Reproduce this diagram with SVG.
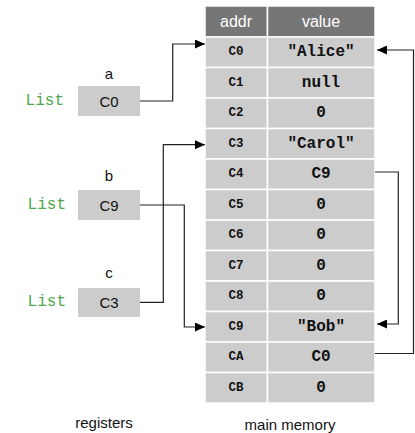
<svg xmlns="http://www.w3.org/2000/svg" width="415" height="433" viewBox="0 0 415 433">
  <style>
    .cell { fill: #cccccc; stroke: #ffffff; stroke-width: 1.5; }
    .head { fill: #767676; stroke: #ffffff; stroke-width: 1.5; }
    .htxt { font-family: "Liberation Sans", sans-serif; font-size: 16px; fill: #ffffff; text-anchor: middle; dominant-baseline: central; }
    .addr { font-family: "Liberation Mono", monospace; font-weight: bold; font-size: 12.5px; fill: #111; text-anchor: middle; dominant-baseline: central; }
    .val { font-family: "Liberation Mono", monospace; font-weight: bold; font-size: 16px; fill: #111; text-anchor: middle; dominant-baseline: central; }
    .reg { fill: #cccccc; }
    .rtxt { font-family: "Liberation Sans", sans-serif; font-size: 15px; fill: #111; text-anchor: middle; dominant-baseline: central; }
    .type { font-family: "Liberation Mono", monospace; font-size: 16px; fill: #4fa64f; text-anchor: end; dominant-baseline: central; }
    .lbl { font-family: "Liberation Sans", sans-serif; font-size: 15px; fill: #111; text-anchor: middle; dominant-baseline: central; }
    .wire { fill: none; stroke: #222; stroke-width: 1.2; }
  </style>
  <defs>
    <marker id="arrow" markerUnits="userSpaceOnUse" markerWidth="11" markerHeight="9" refX="10" refY="4.5" orient="auto">
      <path d="M0,0 L10,4.5 L0,9 z" fill="#000"/>
    </marker>
  </defs>

  <rect width="415" height="433" fill="#ffffff"/>

  <!-- memory table header -->
  <g id="header">
    <rect class="head" x="205" y="6" width="62.5" height="31"/>
    <rect class="head" x="267.5" y="6" width="107.5" height="31"/>
    <text class="htxt" x="236" y="21.5">addr</text>
    <text class="htxt" x="321" y="21.5">value</text>
  </g>

  <!-- memory cells -->
  <g id="mem-C0">
    <rect class="cell" x="205" y="37" width="62.5" height="30.5"/>
    <rect class="cell" x="267.5" y="37" width="107.5" height="30.5"/>
    <text class="addr" x="236" y="52">C0</text>
    <text class="val" x="321" y="52">"Alice"</text>
  </g>
  <g id="mem-C1">
    <rect class="cell" x="205" y="67.5" width="62.5" height="30.5"/>
    <rect class="cell" x="267.5" y="67.5" width="107.5" height="30.5"/>
    <text class="addr" x="236" y="82.5">C1</text>
    <text class="val" x="321" y="82.5">null</text>
  </g>
  <g id="mem-C2">
    <rect class="cell" x="205" y="98" width="62.5" height="30.5"/>
    <rect class="cell" x="267.5" y="98" width="107.5" height="30.5"/>
    <text class="addr" x="236" y="113">C2</text>
    <text class="val" x="321" y="113">0</text>
  </g>
  <g id="mem-C3">
    <rect class="cell" x="205" y="128.5" width="62.5" height="30.5"/>
    <rect class="cell" x="267.5" y="128.5" width="107.5" height="30.5"/>
    <text class="addr" x="236" y="143.5">C3</text>
    <text class="val" x="321" y="143.5">"Carol"</text>
  </g>
  <g id="mem-C4">
    <rect class="cell" x="205" y="159" width="62.5" height="30.5"/>
    <rect class="cell" x="267.5" y="159" width="107.5" height="30.5"/>
    <text class="addr" x="236" y="174">C4</text>
    <text class="val" x="321" y="174">C9</text>
  </g>
  <g id="mem-C5">
    <rect class="cell" x="205" y="189.5" width="62.5" height="30.5"/>
    <rect class="cell" x="267.5" y="189.5" width="107.5" height="30.5"/>
    <text class="addr" x="236" y="204.5">C5</text>
    <text class="val" x="321" y="204.5">0</text>
  </g>
  <g id="mem-C6">
    <rect class="cell" x="205" y="220" width="62.5" height="30.5"/>
    <rect class="cell" x="267.5" y="220" width="107.5" height="30.5"/>
    <text class="addr" x="236" y="235">C6</text>
    <text class="val" x="321" y="235">0</text>
  </g>
  <g id="mem-C7">
    <rect class="cell" x="205" y="250.5" width="62.5" height="30.5"/>
    <rect class="cell" x="267.5" y="250.5" width="107.5" height="30.5"/>
    <text class="addr" x="236" y="265.5">C7</text>
    <text class="val" x="321" y="265.5">0</text>
  </g>
  <g id="mem-C8">
    <rect class="cell" x="205" y="281" width="62.5" height="30.5"/>
    <rect class="cell" x="267.5" y="281" width="107.5" height="30.5"/>
    <text class="addr" x="236" y="296">C8</text>
    <text class="val" x="321" y="296">0</text>
  </g>
  <g id="mem-C9">
    <rect class="cell" x="205" y="311.5" width="62.5" height="30.5"/>
    <rect class="cell" x="267.5" y="311.5" width="107.5" height="30.5"/>
    <text class="addr" x="236" y="326.5">C9</text>
    <text class="val" x="321" y="326.5">"Bob"</text>
  </g>
  <g id="mem-CA">
    <rect class="cell" x="205" y="342" width="62.5" height="30.5"/>
    <rect class="cell" x="267.5" y="342" width="107.5" height="30.5"/>
    <text class="addr" x="236" y="357">CA</text>
    <text class="val" x="321" y="357">C0</text>
  </g>
  <g id="mem-CB">
    <rect class="cell" x="205" y="372.5" width="62.5" height="30.5"/>
    <rect class="cell" x="267.5" y="372.5" width="107.5" height="30.5"/>
    <text class="addr" x="236" y="387.5">CB</text>
    <text class="val" x="321" y="387.5">0</text>
  </g>

  <!-- registers -->
  <g id="reg-a">
    <text class="lbl" x="109" y="73">a</text>
    <text class="type" x="64" y="101">List</text>
    <rect class="reg" x="78" y="86" width="62" height="30"/>
    <text class="rtxt" x="109" y="101">C0</text>
  </g>
  <g id="reg-b">
    <text class="lbl" x="109" y="175">b</text>
    <text class="type" x="66" y="205">List</text>
    <rect class="reg" x="78" y="190" width="62" height="30"/>
    <text class="rtxt" x="109" y="205">C9</text>
  </g>
  <g id="reg-c">
    <text class="lbl" x="109" y="272">c</text>
    <text class="type" x="66" y="302">List</text>
    <rect class="reg" x="78" y="288" width="62" height="29"/>
    <text class="rtxt" x="109" y="302">C3</text>
  </g>

  <!-- captions -->
  <text class="lbl" x="104" y="422">registers</text>
  <text class="lbl" x="290" y="424">main memory</text>

  <!-- pointers -->
  <g id="connectors">
    <path class="wire" d="M140,101 H172.7 V44 H205" marker-end="url(#arrow)"/>
    <path class="wire" d="M140,205 H184.3 V327 H205" marker-end="url(#arrow)"/>
    <path class="wire" d="M140,302.3 H163.3 V144.7 H205" marker-end="url(#arrow)"/>
    <path class="wire" d="M375,172 H398.3 V324 H377" marker-end="url(#arrow)"/>
    <path class="wire" d="M375,353.5 H413.5 V50 H377" marker-end="url(#arrow)"/>
  </g>
</svg>
